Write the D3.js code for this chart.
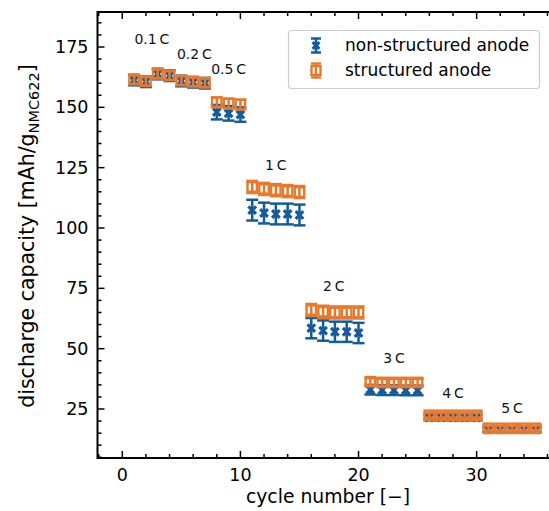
<!DOCTYPE html>
<html>
<head>
<meta charset="utf-8">
<script src="https://cdn.jsdelivr.net/npm/d3@7"></script>
<style>
  body { margin: 0; background: #fff; }
  svg { display: block; font-family: "DejaVu Sans", sans-serif; }
</style>
</head>
<body>
<div id="chart"></div>
<script>
var svgWidth = 549;
var svgHeight = 511;

// plot area edges (right edge runs past the picture)
var margin = { top: 12, left: 97.5 };
var plotBottom = 458;
var plotRight = 553.4;

// data
var cycles = d3.range(1, 36);
var nonStructured = [161.3, 160.6, 163.8, 163.1, 160.9, 160.4, 160.0,
                     148.0, 147.5, 147.0,
                     107.4, 106.2, 105.8, 105.8, 105.4,
                     58.5, 57.5, 57.0, 57.0, 56.5,
                     33.0, 32.8, 32.8, 32.7, 32.7,
                     21.5, 21.5, 21.5, 21.5, 21.5,
                     16.5, 16.5, 16.5, 16.5, 16.5];
var nonStructuredErr = [2.2, 2.2, 2.2, 2.2, 2.2, 2.2, 2.2,
                        3, 3, 3,
                        4.3, 4.3, 4.3, 4.3, 4.3,
                        4.2, 4.2, 4.2, 4.2, 4.2,
                        2, 2, 2, 2, 2,
                        1.2, 1.2, 1.2, 1.2, 1.2,
                        1, 1, 1, 1, 1];
var structured = [161.5, 160.8, 163.9, 163.2, 161.1, 160.6, 160.2,
                  152.1, 151.6, 151.2,
                  117.0, 116.2, 115.7, 115.3, 114.9,
                  66.0, 65.3, 65.0, 65.0, 65.0,
                  36.3, 36.0, 36.0, 36.0, 36.0,
                  22.4, 22.4, 22.4, 22.4, 22.4,
                  17.0, 17.0, 17.0, 17.0, 17.0];
var structuredErr = [1.8, 1.8, 1.8, 1.8, 1.8, 1.8, 1.8,
                     2, 2, 2,
                     2.5, 2.5, 2.5, 2.5, 2.5,
                     2.5, 2.5, 2.5, 2.5, 2.5,
                     1.5, 1.5, 1.5, 1.5, 1.5,
                     1, 1, 1, 1, 1,
                     1, 1, 1, 1, 1];
var rateLabels = ["0.1\u2009C", "0.2\u2009C", "0.5\u2009C", "1\u2009C", "2\u2009C", "3\u2009C", "4\u2009C", "5\u2009C"];
var rateX = [2.5, 6.1, 9.0, 13.0, 17.9, 23.0, 28.0, 33.0];
var rateY = [178.3, 172.0, 165.9, 126.0, 76.0, 46.0, 31.6, 25.4];
var xTicks = [0, 10, 20, 30];
var yTicks = [25, 50, 75, 100, 125, 150, 175];

var blue = "#135b9b";
var orange = "#e8792c";

var svg = d3.select("#chart")
    .append("svg")
    .attr("width", svgWidth)
    .attr("height", svgHeight);

var x = d3.scaleLinear().domain([-2.1, 36.5]).range([margin.left, plotRight]);
var y = d3.scaleLinear().domain([4.7, 189.5]).range([plotBottom, margin.top]);

// series
function drawSeries(vals, errs, color, marker) {
    var g = svg.append("g");
    cycles.forEach(function(c, i) {
        var cx = x(c), v = vals[i], e = errs[i];
        g.append("line")
            .attr("x1", cx).attr("x2", cx)
            .attr("y1", y(v - e)).attr("y2", y(v + e))
            .attr("stroke", color).attr("stroke-width", 2.5);
        [v - e, v + e].forEach(function(val) {
            g.append("line")
                .attr("x1", cx - 6).attr("x2", cx + 6)
                .attr("y1", y(val)).attr("y2", y(val))
                .attr("stroke", color).attr("stroke-width", 2.5);
        });
        if (marker == "x") {
            var s = 3.8;
            g.append("path")
                .attr("d", `M${cx - s},${y(v) - s}L${cx + s},${y(v) + s}M${cx - s},${y(v) + s}L${cx + s},${y(v) - s}`)
                .attr("stroke", color).attr("stroke-width", 3.2)
                .attr("fill", "none");
        } else {
            g.append("rect")
                .attr("x", cx - 4.7).attr("y", y(v) - 4.7)
                .attr("width", 9.4).attr("height", 9.4)
                .attr("fill", "none")
                .attr("stroke", color).attr("stroke-width", 2.4);
        }
    });
}
drawSeries(nonStructured, nonStructuredErr, blue, "x");
drawSeries(structured, structuredErr, orange, "s");

// rate annotations
svg.append("g").selectAll("text")
    .data(rateLabels)
    .enter()
    .append("text")
    .attr("x", (d, i) => x(rateX[i]))
    .attr("y", (d, i) => y(rateY[i]))
    .attr("dy", "0.35em")
    .attr("text-anchor", "middle")
    .attr("font-size", 14)
    .attr("fill", "#111")
    .text(d => d);

// axes: ticks point inward
var tickFont = 17.5;
var axisG = svg.append("g").attr("stroke", "#000");

var xMinor = d3.range(-2, 37, 2).filter(v => v % 10 != 0 && v >= -2.1 && v <= 36.5);
var yMinor = d3.range(5, 190, 5).filter(v => v % 25 != 0 && v >= 4.7);
var yMajor = yTicks;

xTicks.concat(xMinor).forEach(function(v) {
    var len = xTicks.includes(v) ? 7 : 4;
    axisG.append("line").attr("x1", x(v)).attr("x2", x(v))
        .attr("y1", plotBottom).attr("y2", plotBottom - len).attr("stroke-width", 1.5);
    axisG.append("line").attr("x1", x(v)).attr("x2", x(v))
        .attr("y1", margin.top).attr("y2", margin.top + len).attr("stroke-width", 1.5);
});
yMajor.concat(yMinor).forEach(function(v) {
    var len = yMajor.includes(v) ? 7 : 4;
    axisG.append("line").attr("x1", margin.left).attr("x2", margin.left + len)
        .attr("y1", y(v)).attr("y2", y(v)).attr("stroke-width", 1.5);
});

// frame
svg.append("path")
    .attr("d", `M${plotRight},${margin.top}H${margin.left}V${plotBottom}H${plotRight}`)
    .attr("fill", "none")
    .attr("stroke", "#000")
    .attr("stroke-width", 2);

svg.append("g").selectAll("text")
    .data(xTicks)
    .enter()
    .append("text")
    .attr("x", d => x(d))
    .attr("y", plotBottom + 23)
    .attr("text-anchor", "middle")
    .attr("font-size", tickFont)
    .text(d => d);

svg.append("g").selectAll("text")
    .data(yTicks)
    .enter()
    .append("text")
    .attr("x", margin.left - 9)
    .attr("y", d => y(d))
    .attr("dy", "0.35em")
    .attr("text-anchor", "end")
    .attr("font-size", tickFont)
    .text(d => d);

// axis labels
svg.append("text")
    .attr("x", 328)
    .attr("y", 503)
    .attr("text-anchor", "middle")
    .attr("font-size", 18.8)
    .text("cycle number [\u2212]");

var yLabel = svg.append("text")
    .attr("transform", `translate(34, 236) rotate(-90)`)
    .attr("text-anchor", "middle")
    .attr("font-size", 20.5);
yLabel.append("tspan").text("discharge capacity [mAh/g");
yLabel.append("tspan").attr("font-size", 14.5).attr("dy", 4.5).text("NMC622");
yLabel.append("tspan").attr("dy", -4.5).text("]");

// legend
var legend = svg.append("g");
legend.append("rect")
    .attr("x", 288.5).attr("y", 30.5)
    .attr("width", 251).attr("height", 58)
    .attr("rx", 3)
    .attr("fill", "#fff")
    .attr("fill-opacity", 0.8)
    .attr("stroke", "#ccc")
    .attr("stroke-width", 1.2);

var legendItems = [
    { name: "non-structured anode", color: blue, marker: "x" },
    { name: "structured anode", color: orange, marker: "s" }
];
legendItems.forEach(function(item, i) {
    var ly = 45.5 + i * 25, lx = 316;
    legend.append("line").attr("x1", lx).attr("x2", lx)
        .attr("y1", ly - 7).attr("y2", ly + 7)
        .attr("stroke", item.color).attr("stroke-width", 2.5);
    [ly - 7, ly + 7].forEach(function(cy) {
        legend.append("line").attr("x1", lx - 5).attr("x2", lx + 5)
            .attr("y1", cy).attr("y2", cy)
            .attr("stroke", item.color).attr("stroke-width", 2.5);
    });
    if (item.marker == "x") {
        var s = 3.4;
        legend.append("path")
            .attr("d", `M${lx - s},${ly - s}L${lx + s},${ly + s}M${lx - s},${ly + s}L${lx + s},${ly - s}`)
            .attr("stroke", item.color).attr("stroke-width", 3);
    } else {
        legend.append("rect")
            .attr("x", lx - 4.5).attr("y", ly - 4.5)
            .attr("width", 9).attr("height", 9)
            .attr("fill", "none")
            .attr("stroke", item.color).attr("stroke-width", 2.4);
    }
    legend.append("text")
        .attr("x", 345)
        .attr("y", ly)
        .attr("dy", "0.35em")
        .attr("font-size", 17)
        .text(item.name);
});
</script>
</body>
</html>
